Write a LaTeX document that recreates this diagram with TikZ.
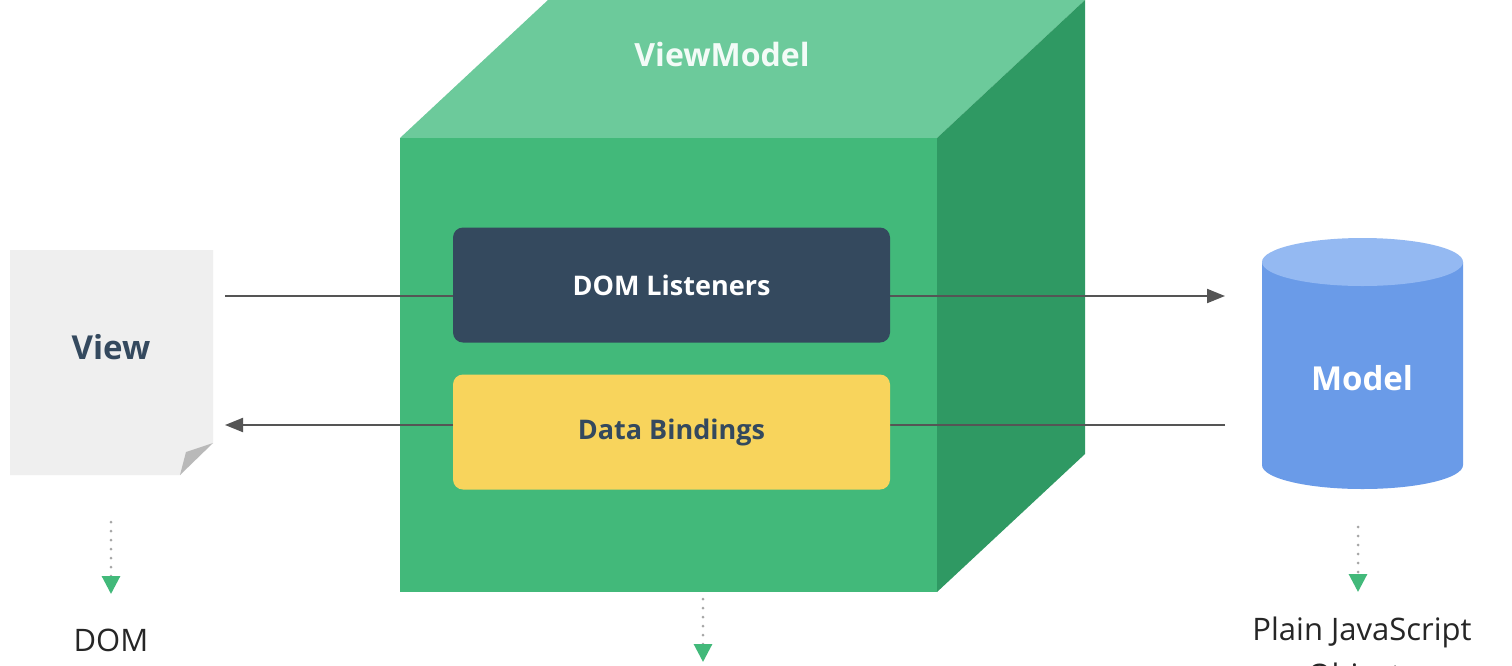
\documentclass[tikz,border=0pt]{standalone}
\usepackage{fontspec}
\setmainfont{Open Sans}
\usetikzlibrary{arrows.meta,shapes.geometric}
\definecolor{gfront}{HTML}{42B97A}
\definecolor{gtop}{HTML}{6CCA9B}
\definecolor{gside}{HTML}{2F9963}
\definecolor{navy}{HTML}{34495E}
\definecolor{yel}{HTML}{F8D45C}
\definecolor{blu}{HTML}{6A9BE8}
\definecolor{blut}{HTML}{94B9F2}
\definecolor{pg}{HTML}{EFEFEF}
\definecolor{ln}{HTML}{555555}
\begin{document}
\begin{tikzpicture}[x=1pt,y=-1pt,
  box/.style={rounded corners=10pt,minimum width=437pt,minimum height=115pt,font=\bfseries\fontsize{27}{31}\selectfont},
  flow/.style={draw=ln,line width=2pt,-{Triangle[length=18pt,width=14pt]}},
  dots/.style={draw=gray!70,line width=3pt,line cap=round,dash pattern=on 0pt off 9pt,-{Triangle[length=18pt,width=18pt,color=gfront,sep=0pt]}},
  lbl/.style={font=\fontsize{31}{35}\selectfont,text=black!85}]
\useasboundingbox (0,0) rectangle (1512,665);
\clip (0,0) rectangle (1512,665);
\fill[white] (0,0) rectangle (1512,665);
% cube
\fill[gtop] (400,138) -- (548,0) -- (1085,0) -- (937,138) -- cycle;
\fill[gside] (937,138) -- (1085,0) -- (1085,454) -- (937,592) -- cycle;
\fill[gfront] (400,138) rectangle (937,592);
\node[font=\bfseries\fontsize{32}{36}\selectfont,text=white!92!gtop] (vmt) at (722,54) {ViewModel};
% view page
\fill[pg] (10,250) -- (213,250) -- (213,443) -- (180,475) -- (10,475) -- cycle;
\fill[gray!55] (213,443) -- (180,475) -- (186,452) -- cycle;
\node[font=\bfseries\fontsize{33}{37}\selectfont,text=navy] (view) at (111,347) {View};
\coordinate (vr1) at (225,296); \coordinate (vr2) at (225,425);
% model cylinder
\fill[blu] (1262,262) -- (1262,465) arc[start angle=180,end angle=360,x radius=100.5pt,y radius=24pt] -- (1463,262) -- cycle;
\fill[blut] (1362.5,262) ellipse[x radius=100.5pt,y radius=24pt];
\node[font=\bfseries\fontsize{33}{37}\selectfont,text=white] (model) at (1362,378) {Model};
\coordinate (ml1) at (1225,296); \coordinate (ml2) at (1225,425);
% arrows
\draw[flow] (vr1) -- (ml1);
\draw[flow] (ml2) -- (vr2);
% boxes
\node[box,fill=navy,text=white] (dl) at (671.5,285) {DOM Listeners};
\node[box,fill=yel,text=navy] (db) at (671.5,432) {Data Bindings};
% dotted arrows and labels
\node[lbl] (dom) at (111,640) {DOM};
\node[lbl] (pjs) at (1362,632) {Plain JavaScript};
\node[lbl] (obj) at (1362,678) {Objects};
\coordinate (v0) at (111,522); \coordinate (v1) at (111,594);
\coordinate (m0) at (1358,527); \coordinate (m1) at (1358,592);
\coordinate (c0) at (703,599); \coordinate (c1) at (703,662);
\draw[dots] (v0) -- (v1);
\draw[dots] (m0) -- (m1);
\draw[dots] (c0) -- (c1);
\end{tikzpicture}
\end{document}
